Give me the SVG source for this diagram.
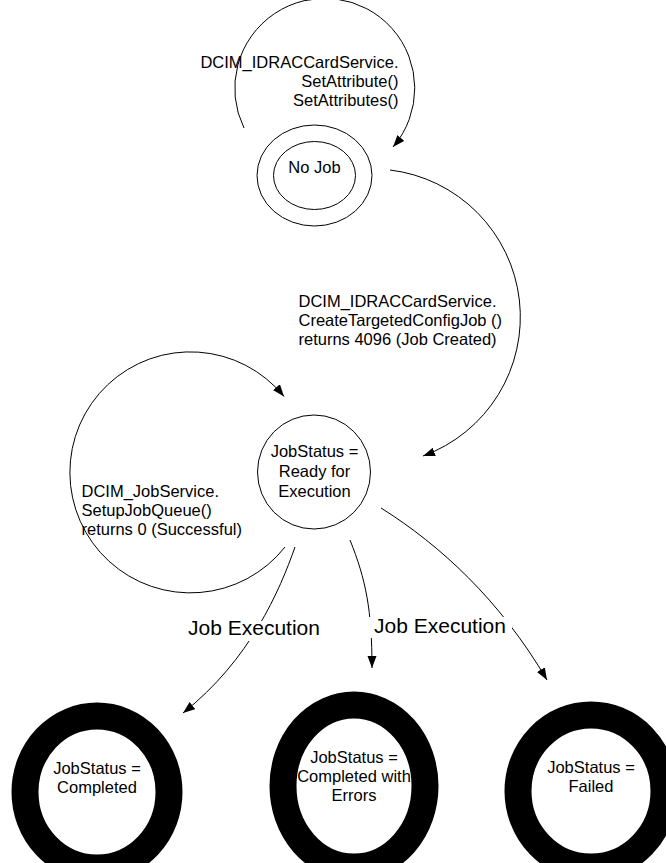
<svg xmlns="http://www.w3.org/2000/svg" width="666" height="863" viewBox="0 0 666 863">
<style>
text{font-family:"Liberation Sans",Arial,sans-serif;font-size:16.5px;fill:#000}
.c{text-anchor:middle}
.r{text-anchor:end}
.big{font-size:21px}
.st{fill:#fff;stroke:#000;stroke-width:1}
.fin{fill:#fff;stroke:#000;stroke-width:27}
.e{fill:none;stroke:#000;stroke-width:1;marker-end:url(#ah)}
.bg{fill:#fff;stroke:none}
</style>
<defs>
<marker id="ah" markerUnits="userSpaceOnUse" markerWidth="13" markerHeight="10" refX="12" refY="4.5" orient="auto">
<path d="M0,0 L12,4.5 L0,9 z" fill="#000"/>
</marker>
</defs>
<rect width="666" height="863" fill="#fff"/>
<g id="connectors">
<path class="e" d="M244 128 A90 90 0 1 1 393 147"/>
<path class="e" d="M390 170 A148 148 0 0 1 423 456"/>
<path class="e" d="M285 547 A120.5 120.5 0 1 1 284 396.5"/>
<path class="e" d="M295 547 C280 590 250 660 183 713"/>
<path class="e" d="M350 540 C366 580 372 610 372 668"/>
<path class="e" d="M381 508 C440 545 500 600 547 680"/>
</g>
<g id="labels">
<text class="r" x="398.5" y="68">DCIM_IDRACCardService.</text>
<text class="r" x="398.5" y="87">SetAttribute()</text>
<text class="r" x="398.5" y="106">SetAttributes()</text>
<text x="298.5" y="307">DCIM_IDRACCardService.</text>
<text x="298.5" y="326">CreateTargetedConfigJob ()</text>
<text x="298.5" y="345">returns 4096 (Job Created)</text>
<text x="81.5" y="497">DCIM_JobService.</text>
<text x="81.5" y="516">SetupJobQueue()</text>
<text x="81.5" y="535">returns 0 (Successful)</text>
<rect class="bg" x="186" y="621" width="135" height="20"/>
<text class="big" x="188" y="635">Job Execution</text>
<rect class="bg" x="369" y="617" width="143" height="21"/>
<text class="big" x="374" y="632.5">Job Execution</text>
</g>
<g id="node-nojob">
<ellipse class="st" cx="314.5" cy="175.5" rx="57.5" ry="50.5"/>
<ellipse class="st" cx="314.5" cy="175.5" rx="41" ry="34"/>
<text class="c" x="314.5" y="173">No Job</text>
</g>
<g id="node-ready">
<ellipse class="st" cx="314" cy="472" rx="56.5" ry="57"/>
<text class="c" x="314.5" y="457">JobStatus =</text>
<text class="c" x="314.5" y="477">Ready for</text>
<text class="c" x="314.5" y="497">Execution</text>
</g>
<g id="node-completed">
<ellipse class="fin" cx="97" cy="792" rx="72" ry="76"/>
<text class="c" x="97" y="774">JobStatus =</text>
<text class="c" x="97" y="793">Completed</text>
</g>
<g id="node-completed-errors">
<ellipse class="fin" cx="354" cy="786" rx="71" ry="81"/>
<text class="c" x="354" y="763">JobStatus =</text>
<text class="c" x="354" y="782">Completed with</text>
<text class="c" x="354" y="801">Errors</text>
</g>
<g id="node-failed">
<ellipse class="fin" cx="591" cy="791" rx="73" ry="76"/>
<text class="c" x="591" y="773">JobStatus =</text>
<text class="c" x="591" y="792">Failed</text>
</g>
</svg>
